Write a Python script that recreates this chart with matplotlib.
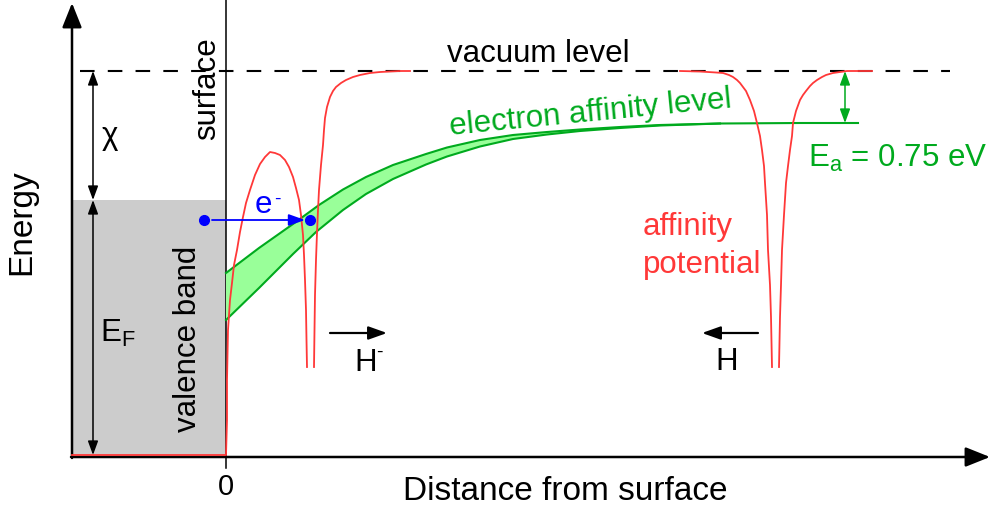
import matplotlib
matplotlib.use('Agg')
import matplotlib.pyplot as plt
import numpy as np

plt.rcParams['font.family'] = ['Liberation Sans', 'DejaVu Sans']
plt.rcParams['mathtext.fontset'] = 'custom'
plt.rcParams['mathtext.rm'] = 'Liberation Sans'
plt.rcParams['mathtext.it'] = 'Liberation Sans:italic'
plt.rcParams['lines.scale_dashes'] = False

# energy levels (arbitrary units, band bottom = 0)
vacuum_level = 384
fermi_level = 255
band_bottom = 0

# surface image potential + H- affinity well next to the surface
surf_x = [-154, 0, 1, 1, 2, 4, 6, 8, 11, 14, 17, 20, 24, 29, 34, 39, 44, 49, 54, 59, 63, 67,
          70, 73, 75, 77, 78, 79, 80, 80.5, 81]
surf_v = [0, 0, 35, 75, 125, 155, 172, 190, 205, 223, 238, 252, 265, 280, 291, 298, 303, 302,
          300, 295, 288, 278, 267, 255, 240, 220, 200, 175, 145, 115, 88]
well1_x = [88, 88.5, 89, 90, 91, 92, 93, 95, 97, 98, 99, 101, 104, 107, 110, 115, 120, 127,
           134, 144, 154, 174, 184]
well1_v = [88, 125, 160, 195, 222, 245, 265, 290, 310, 325, 337, 348, 358, 364, 368, 372, 375,
           378, 380, 382, 383, 384, 384]

# affinity well of the incoming H atom far from the surface
well2_x = [454, 474, 490, 497, 503, 507, 511, 514, 517, 520, 524, 528, 531, 534, 536, 538, 539,
           541, 542, 544, 545, 546]
well2_v = [384, 383.5, 382.5, 382, 380, 378, 375, 372, 368, 364, 355, 344, 332, 319, 305, 289,
           272, 240, 205, 170, 138, 88]
well3_x = [553, 554, 555, 556, 558, 560, 562, 564, 566, 567, 570, 574, 577, 580, 584, 587, 591,
           596, 600, 607, 621, 646]
well3_v = [88, 138, 170, 205, 240, 272, 289, 305, 319, 332, 344, 355, 360, 364, 369, 372, 375,
           378, 380, 382, 384, 384]

# broadened electron affinity level of H-
top_x = [0, 33, 67, 93, 117, 140, 167, 200, 221, 254, 287, 321, 354, 394, 434, 494, 574, 632]
top_v = [182, 207, 231, 250, 265.5, 278, 290, 301, 307.5, 315, 320, 323, 325.5, 328, 330,
         331.5, 332, 332]
low_x = [0, 33, 67, 90, 117, 140, 167, 200, 221, 254, 287, 321, 354, 394, 434, 494]
low_v = [135, 167, 201, 223, 245, 261, 276, 290.5, 298.5, 308.5, 316, 320.5, 324, 327, 329.5,
         331.5]

# electron tunnelling from the valence band into the affinity level
electron_x = [-22, 84]
electron_e = 235

red = '#ff3838'
green = '#00aa1e'
blue = '#0000ff'

fig = plt.figure(figsize=(9.9, 5.16), dpi=100)
ax = fig.add_axes([0, 0, 1, 1])
ax.set_xlim(-226, 764)
ax.set_ylim(-61, 455)
ax.axis('off')

# filled valence band
ax.fill_between([-154, 0], -2, fermi_level, color='#cccccc', lw=0, zorder=1)

# surface line with tick at zero
ax.plot([0, 0], [-13, 455], color='black', lw=1.1, zorder=2)

# energy and distance axes
arrow_axes = dict(arrowstyle='-|>,head_length=0.75,head_width=0.3', color='black',
                  lw=1.8, shrinkA=0, shrinkB=0, mutation_scale=20)
ax.annotate('', xy=(-154, 452), xytext=(-154, -3), arrowprops=arrow_axes, zorder=3)
ax.annotate('', xy=(764, -2), xytext=(-155, -2), arrowprops=arrow_axes, zorder=3)

# vacuum level
ax.plot([-146, 724], [vacuum_level, vacuum_level], color='black', lw=1.5,
        dashes=(10.5, 9.5), zorder=2)

# affinity level band
ax.fill(np.concatenate([top_x, low_x[::-1]]), np.concatenate([top_v, low_v[::-1]]),
        color='#99ff99', lw=0, zorder=3)
ax.plot(top_x, top_v, color=green, lw=1.5, zorder=4)
ax.plot(low_x, low_v, color=green, lw=1.5, zorder=4)

# potentials
for xs, vs in [(surf_x, surf_v), (well1_x, well1_v), (well2_x, well2_v), (well3_x, well3_v)]:
    ax.plot(xs, vs, color=red, lw=1.3, zorder=5)

# chi and E_F arrows
small = dict(arrowstyle='<|-|>,head_length=0.6,head_width=0.22', color='black',
             lw=1.1, shrinkA=0, shrinkB=0, mutation_scale=14)
ax.annotate('', xy=(-133, vacuum_level), xytext=(-133, fermi_level), arrowprops=small)
ax.annotate('', xy=(-133, fermi_level), xytext=(-133, band_bottom), arrowprops=small)

# E_a arrow
ea = dict(small, color=green)
ax.annotate('', xy=(619, vacuum_level), xytext=(619, top_v[-1]), arrowprops=ea)

# electron transfer
ax.plot(electron_x, [electron_e, electron_e], 'o', color=blue, ms=7, zorder=6)
ax.annotate('', xy=(electron_x[1] - 5, electron_e), xytext=(electron_x[0] + 8, electron_e),
            arrowprops=dict(arrowstyle='-|>,head_length=0.7,head_width=0.25', color=blue,
                            lw=1.3, shrinkA=0, shrinkB=0, mutation_scale=14), zorder=6)

# motion arrows for H- and H
motion = dict(arrowstyle='-|>,head_length=0.7,head_width=0.25', color='black',
              lw=1.6, shrinkA=0, shrinkB=0, mutation_scale=16)
ax.annotate('', xy=(161, 122), xytext=(104, 122), arrowprops=motion)
ax.annotate('', xy=(476, 122), xytext=(532, 122), arrowprops=motion)

fs = 22.5
ax.text(-204, 233, 'Energy', rotation=90, ha='center', va='center', fontsize=24)
ax.text(339, -37, 'Distance from surface', ha='center', va='center', fontsize=24)
ax.text(0, -32, '0', ha='center', va='center', fontsize=21)
ax.text(-19, 366, 'surface', rotation=90, ha='center', va='center', fontsize=fs)
ax.text(-38, 116, 'valence band', rotation=90, ha='center', va='center', fontsize=fs)
ax.text(-116, 319, 'χ', ha='center', va='center', fontsize=fs)
ax.text(-126, 113, r'E$_\mathrm{F}$', ha='left', va='baseline', fontsize=fs)
ax.text(29, 242, 'e', ha='left', va='baseline', fontsize=fs, color=blue)
ax.text(51, 256, '-', ha='center', va='center', fontsize=14, color=blue)
ax.text(221, 393, 'vacuum level', ha='left', va='baseline', fontsize=fs)
ax.text(365, 334, 'electron affinity level', ha='center', va='baseline', rotation=5.6,
        rotation_mode='anchor', fontsize=fs, color=green)
ax.text(582, 288, r'E$_\mathrm{a}$ = 0.75 eV', ha='left', va='baseline', fontsize=fs, color=green)
ax.text(417, 220, 'affinity', ha='left', va='baseline', fontsize=fs, color=red)
ax.text(417, 182, 'potential', ha='left', va='baseline', fontsize=fs, color=red)
ax.text(128, 84, 'H', ha='left', va='baseline', fontsize=fs)
ax.text(153.5, 103, '-', ha='center', va='center', fontsize=14)
ax.text(489, 85, 'H', ha='left', va='baseline', fontsize=fs)

plt.savefig('out.png', dpi=100)
plt.close()
